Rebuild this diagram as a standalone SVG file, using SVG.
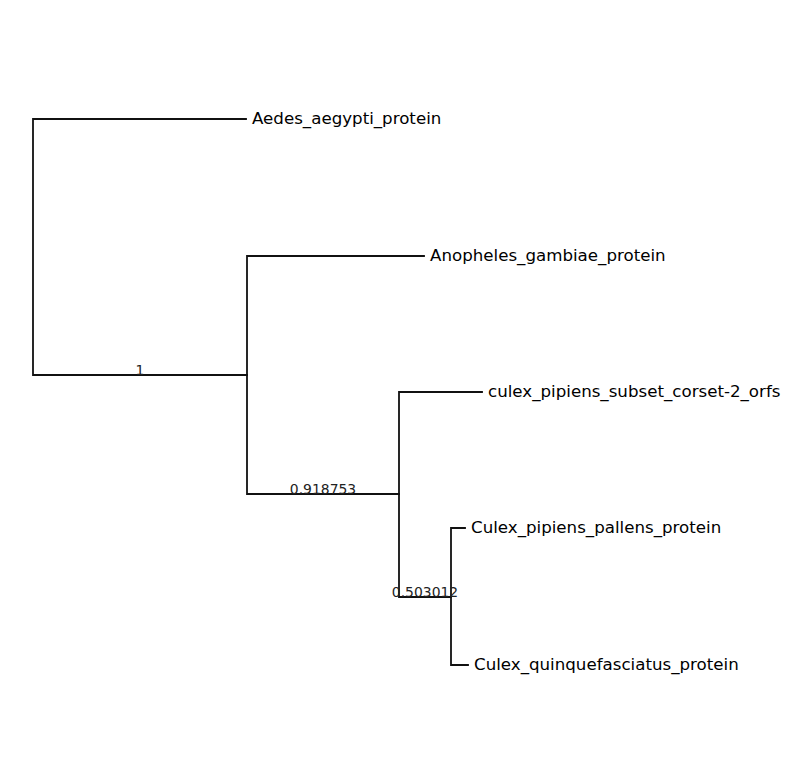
<svg xmlns="http://www.w3.org/2000/svg" width="790" height="784" viewBox="0 0 790 784">
<style>
.br{stroke:#111;stroke-width:1.8;fill:none;stroke-linecap:square}
.lbl{font-family:"DejaVu Sans",sans-serif;font-size:16.67px;fill:#000}
.conf{font-family:"DejaVu Sans",sans-serif;font-size:13.9px;fill:#222;text-anchor:middle}
</style>
<rect width="790" height="784" fill="#fff"/>
<g id="connectors">
<path class="br" d="M33,119V375M33,119H246M33,375H247"/>
<path class="br" d="M247,256V494M247,256H424M247,494H399"/>
<path class="br" d="M399,392V597M399,392H482M399,597H451"/>
<path class="br" d="M451,528V665M451,528H465M451,665H468"/>
<text class="conf" x="140" y="375">1</text>
<text class="conf" x="323" y="494">0.918753</text>
<text class="conf" x="425" y="597">0.503012</text>
</g>
<g id="aedes"><text class="lbl" x="252" y="124">Aedes_aegypti_protein</text></g>
<g id="anopheles"><text class="lbl" x="430" y="261">Anopheles_gambiae_protein</text></g>
<g id="culex_subset"><text class="lbl" x="488" y="397">culex_pipiens_subset_corset-2_orfs</text></g>
<g id="culex_pallens"><text class="lbl" x="471" y="533">Culex_pipiens_pallens_protein</text></g>
<g id="culex_quinq"><text class="lbl" x="474" y="670">Culex_quinquefasciatus_protein</text></g>
</svg>
